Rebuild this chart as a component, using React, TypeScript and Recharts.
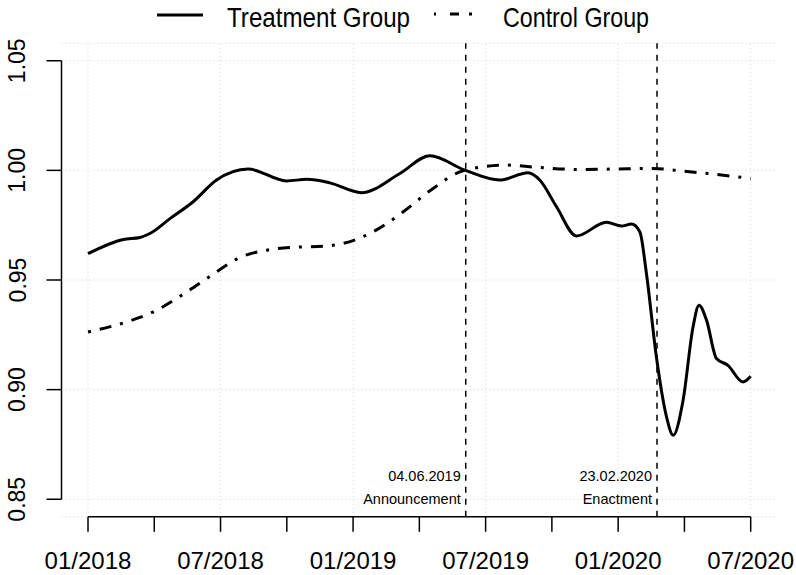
import React from "react";
import {
  CartesianGrid,
  Legend,
  Line,
  LineChart,
  ReferenceLine,
  XAxis,
  YAxis
} from "recharts";

// x values are months since 01/2018 (0 = 01/2018, 30 = 07/2020)
const treatmentMonths = [
  0, 1.6, 2.35, 2.8, 3.71, 4.76, 5.82, 7.25, 8.99, 9.9, 10.95, 12.38, 14.12, 15.48, 17.06,
  18.64, 19.92, 20.45, 21.21, 22.11, 23.47, 24.15, 24.6, 24.98, 25.28, 25.73, 26.19, 26.49,
  26.94, 27.39, 27.66, 28, 28.45, 28.97, 29.65, 30
];
const treatmentValues = [
  0.962, 0.9685, 0.9694, 0.9712, 0.978, 0.9857, 0.9956, 1.0006, 0.9952, 0.9959, 0.9943,
  0.9898, 0.9986, 1.0067, 1.0001, 0.9956, 0.9989, 0.9956, 0.9834, 0.9701, 0.9763, 0.9746,
  0.9755, 0.972, 0.953, 0.915, 0.8876, 0.8792, 0.8952, 0.9286, 0.9385, 0.9317, 0.9142,
  0.9111, 0.9035, 0.9061
];

const controlMonths = [
  0, 1.75, 2.96, 4.31, 5.6, 6.88, 8.09, 9.29, 10.65, 11.56, 12.91, 14.27, 15.48, 16.83,
  17.43, 18.95, 20.45, 22.26, 23.77, 25.58, 26.79, 28.3, 30
];
const controlValues = [
  0.9263, 0.9309, 0.9355, 0.9435, 0.9522, 0.9603, 0.9636, 0.9649, 0.9654, 0.9667, 0.972,
  0.9811, 0.9907, 0.9993, 1.0009, 1.0024, 1.0013, 1.0004, 1.0006, 1.0009, 0.9998, 0.9983,
  0.9963
];

const xTickMonths = [0, 3, 6, 9, 12, 15, 18, 21, 24, 27, 30];
const xLabelMonths = [0, 6, 12, 18, 24, 30];
const xLabels = ["01/2018", "07/2018", "01/2019", "07/2019", "01/2020", "07/2020"];
const yTicks = [0.85, 0.9, 0.95, 1.0, 1.05];

// 04.06.2019 and 23.02.2020 as month positions
const announcementMonth = 17 + 3 / 30;
const enactmentMonth = 25 + 22 / 29;

const X_DOMAIN: [number, number] = [-1.2, 31.2];
const Y_DOMAIN: [number, number] = [0.842, 1.058];

const FONT = "'Liberation Sans', Arial, Helvetica, sans-serif";

const treatment = treatmentMonths.map((m, i) => ({ m, v: treatmentValues[i] }));
const control = controlMonths.map((m, i) => ({ m, v: controlValues[i] }));

function formatX(value: number) {
  const idx = xLabelMonths.indexOf(value);
  return idx >= 0 ? xLabels[idx] : "";
}

function YTick(props: any) {
  const { x, y, payload } = props;
  return (
    <text
      x={x}
      y={y}
      transform={`rotate(-90, ${x}, ${y})`}
      textAnchor="middle"
      fontSize={23}
      fontFamily={FONT}
      fill="#000"
    >
      {Number(payload.value).toFixed(2)}
    </text>
  );
}

function eventLabel(date: string, name: string) {
  return (props: any) => {
    const vb = props.viewBox || {};
    const x = vb.x - 5;
    const bottom = vb.y + vb.height;
    return (
      <g fontFamily={FONT} fontSize={14.5} fill="#000">
        <text x={x} y={bottom - 36} textAnchor="end">
          {date}
        </text>
        <text x={x} y={bottom - 13} textAnchor="end">
          {name}
        </text>
      </g>
    );
  };
}

function ChartLegend() {
  return (
    <svg width={796} height={40}>
      <line x1={157} x2={203} y1={15} y2={15} stroke="#000" strokeWidth={3} />
      <text
        x={227}
        y={26.5}
        fontSize={28}
        fontFamily={FONT}
        textLength={183}
        lengthAdjust="spacingAndGlyphs"
      >
        Treatment Group
      </text>
      <line
        x1={434}
        x2={472}
        y1={14}
        y2={14}
        stroke="#000"
        strokeWidth={3}
        strokeDasharray="2 14 9 10 3"
      />
      <text
        x={503}
        y={26.5}
        fontSize={28}
        fontFamily={FONT}
        textLength={146}
        lengthAdjust="spacingAndGlyphs"
      >
        Control Group
      </text>
    </svg>
  );
}

export default function App() {
  return (
    <div style={{ position: "absolute", left: 0, top: 0, background: "#fff" }}>
      <LineChart width={796} height={575} margin={{ top: 43.2, right: 18.8, bottom: 0, left: 0 }}>
        <CartesianGrid vertical={false} stroke="#d3d3d3" strokeDasharray="1 3" />
        {xLabelMonths.map((m) => (
          <ReferenceLine key={`g${m}`} x={m} stroke="#d3d3d3" strokeDasharray="1 3" />
        ))}
        <XAxis
          dataKey="m"
          type="number"
          domain={X_DOMAIN}
          allowDataOverflow
          ticks={xTickMonths}
          interval={0}
          tickFormatter={formatX}
          height={58.2}
          axisLine={false}
          tickSize={15}
          tickMargin={20.5}
          tickLine={{ stroke: "#000", strokeWidth: 1.5 }}
          tick={{ fontSize: 24, fill: "#000", fontFamily: FONT }}
        />
        <YAxis
          type="number"
          domain={Y_DOMAIN}
          allowDataOverflow
          ticks={yTicks}
          interval={0}
          width={61.5}
          axisLine={false}
          tickSize={15}
          tickMargin={21}
          tickLine={{ stroke: "#000", strokeWidth: 1.5 }}
          tick={<YTick />}
        />
        {/* axis lines that only span the tick range, like base R */}
        <ReferenceLine
          segment={[
            { x: 0, y: Y_DOMAIN[0] },
            { x: 30, y: Y_DOMAIN[0] }
          ]}
          stroke="#000"
          strokeWidth={1.5}
          ifOverflow="visible"
        />
        <ReferenceLine
          segment={[
            { x: X_DOMAIN[0], y: 0.85 },
            { x: X_DOMAIN[0], y: 1.05 }
          ]}
          stroke="#000"
          strokeWidth={1.5}
          ifOverflow="visible"
        />
        <ReferenceLine
          x={announcementMonth}
          stroke="#000"
          strokeWidth={1.5}
          strokeDasharray="6 6"
          label={eventLabel("04.06.2019", "Announcement")}
        />
        <ReferenceLine
          x={enactmentMonth}
          stroke="#000"
          strokeWidth={1.5}
          strokeDasharray="6 6"
          label={eventLabel("23.02.2020", "Enactment")}
        />
        <Line
          data={control}
          dataKey="v"
          type="monotone"
          stroke="#000"
          strokeWidth={3}
          strokeDasharray="3 9 12 9"
          dot={false}
          isAnimationActive={false}
        />
        <Line
          data={treatment}
          dataKey="v"
          type="monotone"
          stroke="#000"
          strokeWidth={3}
          strokeLinejoin="round"
          dot={false}
          isAnimationActive={false}
        />
        <Legend
          verticalAlign="middle"
          align="center"
          layout="horizontal"
          wrapperStyle={{ top: 0, left: 0, width: 796, height: 40 }}
          content={() => <ChartLegend />}
        />
      </LineChart>
    </div>
  );
}
